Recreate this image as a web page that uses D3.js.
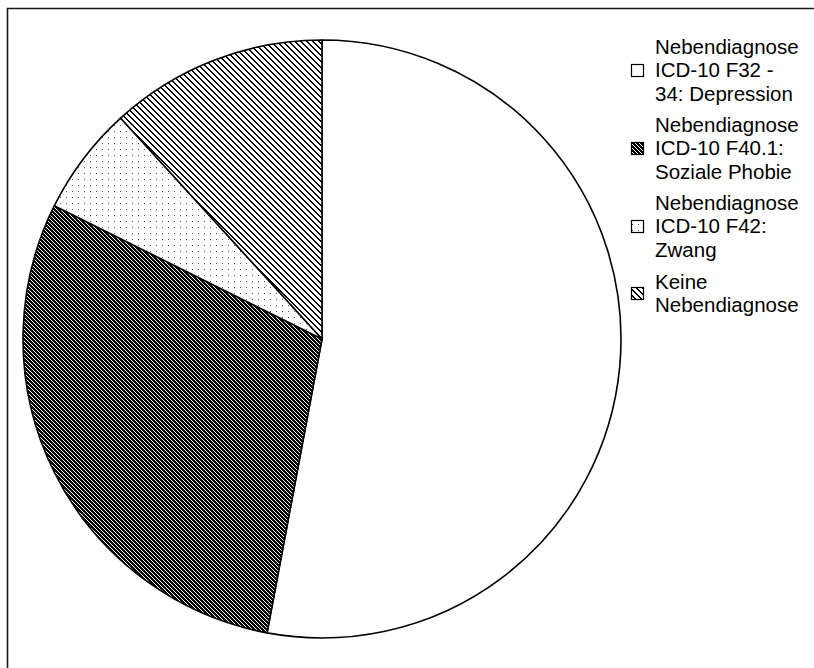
<!DOCTYPE html>
<html>
<head>
<meta charset="utf-8">
<script src="https://cdn.jsdelivr.net/npm/d3@7"></script>
<style>
  html, body { margin: 0; padding: 0; background: #fff; }
  svg { display: block; }
  text { font-family: "Liberation Sans", Arial, sans-serif; fill: #000; }
</style>
</head>
<body>
<svg id="chart" width="814" height="668"></svg>
<script>
// Nebendiagnosen (Anzahl Patienten)
const categories = [
  ["Nebendiagnose", "ICD-10 F32 -", "34: Depression"],
  ["Nebendiagnose", "ICD-10 F40.1:", "Soziale Phobie"],
  ["Nebendiagnose", "ICD-10 F42:", "Zwang"],
  ["Keine", "Nebendiagnose"]
];
const counts = [9, 5, 1, 2];
const fills = ["url(#solid-white)", "url(#hatch-dark)", "url(#dots)", "url(#hatch-light)"];

const svg = d3.select("#chart");
const W = 814, H = 668;

// pixel fill patterns
const defs = svg.append("defs");

function pixelPattern(id, size, bg, fg, pixels) {
  const p = defs.append("pattern").attr("id", id)
    .attr("patternUnits", "userSpaceOnUse")
    .attr("width", size).attr("height", size)
    .attr("shape-rendering", "crispEdges");
  p.append("rect").attr("width", size).attr("height", size).attr("fill", bg);
  p.selectAll("rect.px").data(pixels).join("rect").attr("class", "px")
    .attr("x", d => d[0]).attr("y", d => d[1])
    .attr("width", 1).attr("height", 1).attr("fill", fg);
}

pixelPattern("solid-white", 4, "#fff", "#fff", []);
// black with thin white "\" stripes
pixelPattern("hatch-dark", 4, "#000", "#fff", [[0, 0], [1, 1], [2, 2], [3, 3]]);
// white with black "\" stripes, two pixels wide
pixelPattern("hatch-light", 6, "#fff", "#000",
  [[0, 0], [1, 0], [1, 1], [2, 1], [2, 2], [3, 2], [3, 3], [4, 3], [4, 4], [5, 4], [5, 5], [0, 5]]);
// sparse grey dots
pixelPattern("dots", 6, "#fff", "#555", [[2, 2]]);

// outer frame
svg.append("path")
  .attr("d", `M7.5,${H + 2} L7.5,8.5 L${W + 2},8.5`)
  .attr("fill", "none").attr("stroke", "#1a1a1a").attr("stroke-width", 1.6);

// pie
const cx = 322, cy = 339, r = 299;
const pie = d3.pie().sort(null).value(d => d)(counts);
const arc = d3.arc().innerRadius(0).outerRadius(r);

svg.append("g").attr("transform", `translate(${cx},${cy})`)
  .selectAll("path").data(pie).join("path")
  .attr("d", arc)
  .attr("fill", (d, i) => fills[i])
  .attr("stroke", "#000").attr("stroke-width", 1.6)
  .attr("stroke-linejoin", "round");

// legend
const legendX = 655, boxX = 631, box = 12, lineH = 23.4;
const boxCenters = [70, 148, 226, 293];

categories.forEach((lines, i) => {
  const g = svg.append("g");
  const yc = boxCenters[i];
  g.append("rect")
    .attr("x", boxX + 0.5).attr("y", yc - box / 2 + 0.5)
    .attr("width", box).attr("height", box)
    .attr("fill", fills[i]).attr("stroke", "#000").attr("stroke-width", 1.2);
  const n = lines.length;
  lines.forEach((t, k) => {
    g.append("text")
      .attr("x", legendX)
      .attr("y", yc + (k - (n - 1) / 2) * lineH)
      .attr("dy", "0.36em")
      .attr("font-size", 20.5)
      .text(t);
  });
});
</script>
</body>
</html>
